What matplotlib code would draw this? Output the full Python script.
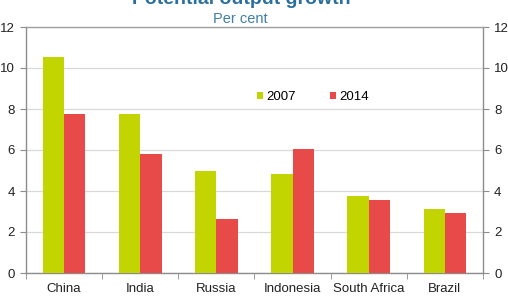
import matplotlib
matplotlib.use("Agg")
import matplotlib.pyplot as plt
import numpy as np

countries = ["China", "India", "Russia", "Indonesia", "South Africa", "Brazil"]
growth_2007 = [10.55, 7.75, 4.98, 4.83, 3.76, 3.12]
growth_2014 = [7.75, 5.79, 2.62, 6.06, 3.56, 2.95]
yticks = [0, 2, 4, 6, 8, 10, 12]

GREEN = "#c3d500"
RED = "#e84a4a"
GRID = "#d9d9d9"
SPINE = "#8c8c8c"
BLUE = "#2a6f9e"

plt.rcParams["font.family"] = ["Liberation Sans", "DejaVu Sans"]

fig = plt.figure(figsize=(5.08, 3.06), dpi=100)
ax = fig.add_axes([26 / 508, 33 / 306, 457 / 508, 246 / 306])

x = np.arange(len(countries))
w = 0.28
ax.bar(x - w / 2, growth_2007, w, color=GREEN, label="2007", zorder=3)
ax.bar(x + w / 2, growth_2014, w, color=RED, label="2014", zorder=3)

ax.set_xlim(-0.5, len(countries) - 0.5)
ax.set_ylim(0, 12)
ax.set_yticks(yticks)
ax.set_xticks(x)
ax.set_xticklabels(countries, fontsize=9.5, color="#222222")
ax.set_xticks(np.arange(-0.5, len(countries)), minor=True)
ax.tick_params(axis="x", which="major", length=0, pad=7)
ax.tick_params(axis="x", which="minor", length=4, color=SPINE, direction="out")
ax.tick_params(axis="y", which="major", length=4, color=SPINE, labelsize=9.5,
               labelcolor="#222222", left=True, right=True,
               labelleft=True, labelright=True, pad=4)
ax.grid(axis="y", color=GRID, linewidth=0.9, zorder=0)
for s in ax.spines.values():
    s.set_color(SPINE)
    s.set_linewidth(1.0)
ax.spines["top"].set_color("#a0a0a0")

ax.legend(loc="center left", bbox_to_anchor=(0.505, 0.715), ncol=2, frameon=False,
          fontsize=9.5, handlelength=0.5, handleheight=0.5, handletextpad=0.2,
          columnspacing=2.6, borderaxespad=0, borderpad=0)

fig.text(241 / 508, 1 - 4 / 306, "Potential output growth", ha="center",
         va="baseline", fontsize=14, fontweight="bold", color=BLUE)
fig.text(240 / 508, 1 - 19 / 306, "Per cent", ha="center", va="center",
         fontsize=10.5, color="#3f7fa6")

fig.savefig("out.png", dpi=100)
